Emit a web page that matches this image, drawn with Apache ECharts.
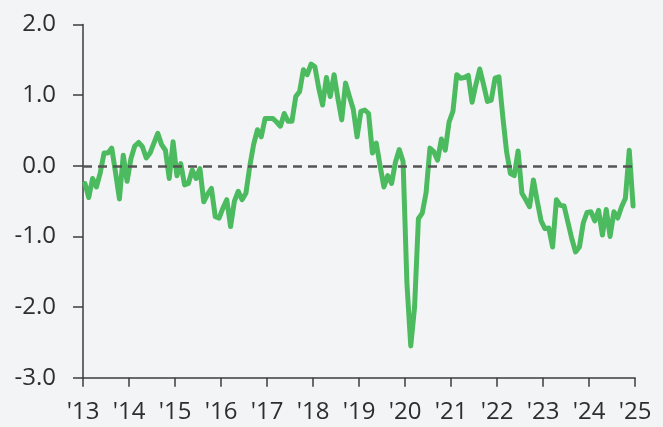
<!DOCTYPE html>
<html>
<head>
<meta charset="utf-8">
<script src="https://cdn.jsdelivr.net/npm/echarts@6/dist/echarts.min.js"></script>
<style>
  html, body { margin: 0; padding: 0; background: #f3f4f6; }
  #chart { width: 663px; height: 427px; }
</style>
</head>
<body>
<div id="chart"></div>
<script>
// monthly readings, Jan 2013 .. Dec 2024
const startYear = 2013
const v2013 = [-0.25, -0.45, -0.18, -0.30, -0.10, 0.18, 0.18, 0.25, -0.10, -0.47, 0.15, -0.22]
const v2014 = [0.10, 0.28, 0.33, 0.27, 0.11, 0.18, 0.32, 0.46, 0.30, 0.22, -0.18, 0.34]
const v2015 = [-0.14, 0.03, -0.27, -0.25, -0.06, -0.18, -0.04, -0.51, -0.40, -0.32, -0.72, -0.74]
const v2016 = [-0.60, -0.48, -0.86, -0.50, -0.36, -0.48, -0.39, -0.01, 0.30, 0.51, 0.41, 0.67]
const v2017 = [0.67, 0.67, 0.62, 0.56, 0.74, 0.63, 0.63, 0.98, 1.05, 1.36, 1.29, 1.44]
const v2018 = [1.40, 1.10, 0.86, 1.25, 0.98, 1.29, 0.95, 0.65, 1.17, 0.98, 0.80, 0.41]
const v2019 = [0.77, 0.79, 0.74, 0.18, 0.32, 0.00, -0.30, -0.14, -0.25, 0.05, 0.23, 0.06]
const v2020 = [-1.66, -2.55, -2.00, -0.75, -0.67, -0.38, 0.25, 0.20, 0.08, 0.38, 0.22, 0.62]
const v2021 = [0.77, 1.29, 1.24, 1.25, 1.28, 0.90, 1.15, 1.37, 1.15, 0.91, 0.93, 1.24]
const v2022 = [1.26, 0.70, 0.20, -0.11, -0.14, 0.21, -0.39, -0.48, -0.58, -0.20, -0.50, -0.78]
const v2023 = [-0.89, -0.88, -1.15, -0.48, -0.56, -0.57, -0.80, -1.03, -1.22, -1.15, -0.81, -0.66]
const v2024 = [-0.65, -0.78, -0.63, -0.98, -0.62, -1.00, -0.65, -0.74, -0.58, -0.46, 0.22, -0.57]

const values = [].concat(v2013, v2014, v2015, v2016, v2017, v2018,
  v2019, v2020, v2021, v2022, v2023, v2024)

const yTicks = [-3, -2, -1, 0, 1, 2]

const textColor = '#2e2e2e'
const axisColor = '#3c3c3c'
const fontFamily = '"Open Sans", sans-serif'

const chart = echarts.init(document.getElementById('chart'), null, { renderer: 'canvas' })

const seriesData = values.map((v, i) => [startYear + (i + 0.5) / 12, v])

chart.setOption({
  backgroundColor: '#f3f4f6',
  animation: false,
  grid: { left: 83, right: 28, top: 24.5, bottom: 49.3 },
  xAxis: {
    type: 'value',
    min: 2013,
    max: 2025,
    interval: 1,
    axisLine: { show: true, onZero: false, lineStyle: { color: axisColor, width: 1.5 } },
    axisTick: { show: true, length: 9, lineStyle: { color: axisColor, width: 1.5 } },
    splitLine: { show: false },
    axisLabel: {
      margin: 22,
      color: textColor,
      fontSize: 24,
      fontFamily: fontFamily,
      formatter: v => "'" + String(v).slice(2)
    }
  },
  yAxis: {
    type: 'value',
    min: yTicks[0],
    max: yTicks[yTicks.length - 1],
    interval: 1,
    axisLine: { show: true, onZero: false, lineStyle: { color: axisColor, width: 1.5 } },
    axisTick: { show: true, length: 10, lineStyle: { color: axisColor, width: 1.5 } },
    splitLine: { show: false },
    axisLabel: {
      margin: 27,
      color: textColor,
      fontSize: 24,
      fontFamily: fontFamily,
      formatter: v => v.toFixed(1)
    }
  },
  series: [
    {
      type: 'line',
      data: seriesData,
      showSymbol: false,
      symbol: 'none',
      lineStyle: { color: '#4cbb5f', width: 5, cap: 'round', join: 'round' },
      markLine: {
        silent: true,
        z: 10,
        symbol: 'none',
        label: { show: false },
        lineStyle: { color: '#555555', width: 2.5, type: [9, 6], opacity: 1 },
        data: [{ yAxis: 0 }]
      },
      z: 3
    }
  ]
})
</script>
</body>
</html>
